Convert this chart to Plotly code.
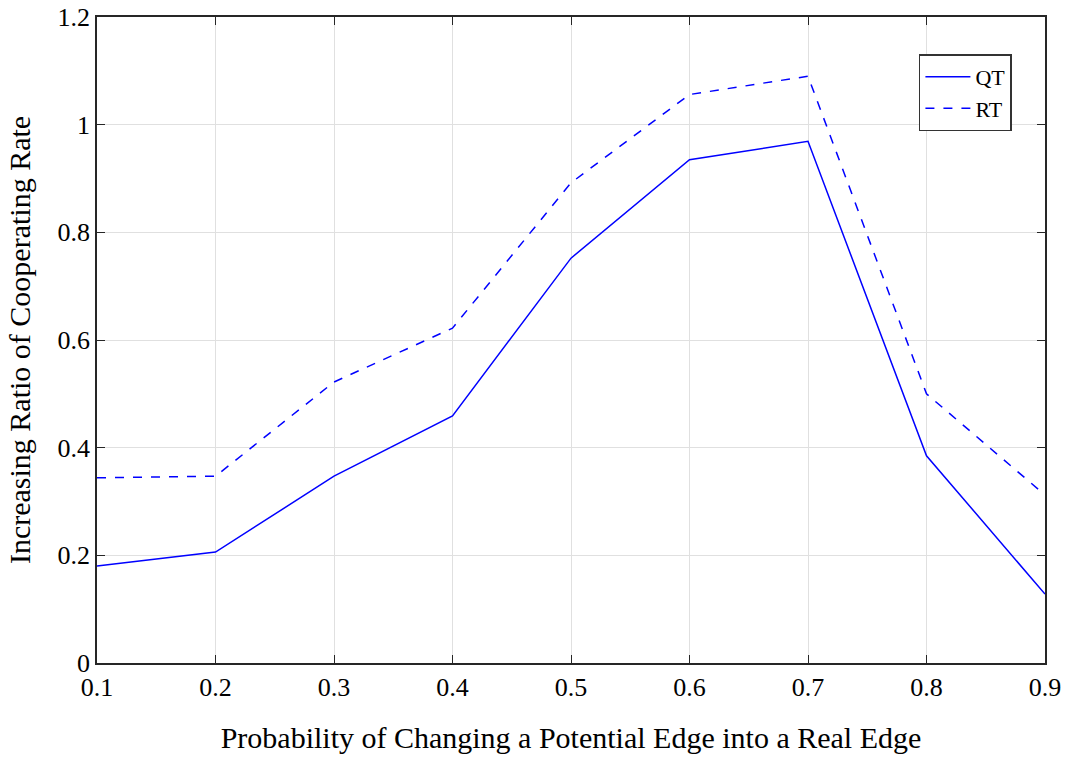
import plotly.graph_objects as go

x_vals = [0.1, 0.2, 0.3, 0.4, 0.5, 0.6, 0.7, 0.8, 0.9]
qt_vals = [0.180, 0.206, 0.347, 0.459, 0.752, 0.935, 0.969, 0.385, 0.128]
rt_vals = [0.344, 0.347, 0.522, 0.622, 0.892, 1.056, 1.090, 0.500, 0.312]
x_ticks = [0.1, 0.2, 0.3, 0.4, 0.5, 0.6, 0.7, 0.8, 0.9]
y_ticks = [0, 0.2, 0.4, 0.6, 0.8, 1.0, 1.2]
y_tick_text = ["0", "0.2", "0.4", "0.6", "0.8", "1", "1.2"]

font_family = "Liberation Serif, Times New Roman, serif"

fig = go.Figure()
fig.add_trace(go.Scatter(x=x_vals, y=qt_vals, mode="lines", name="QT",
                         line=dict(color="#0000ff", width=1.5, dash="solid")))
fig.add_trace(go.Scatter(x=x_vals, y=rt_vals, mode="lines", name="RT",
                         line=dict(color="#0000ff", width=1.5, dash="dash")))

fig.update_layout(
    width=1065, height=757,
    paper_bgcolor="white", plot_bgcolor="white",
    margin=dict(l=97, r=20, t=17, b=94, autoexpand=False),
    font=dict(family=font_family, size=26, color="black"),
    showlegend=True,
    legend=dict(x=0.867, y=0.942, xanchor="left", yanchor="top",
                bgcolor="white", bordercolor="#333333", borderwidth=1.5,
                font=dict(family=font_family, size=22),
                tracegroupgap=0, itemwidth=45),
    xaxis=dict(range=[0.1, 0.9], tickvals=x_ticks,
               ticktext=[str(v) for v in x_ticks],
               showgrid=True, gridcolor="#e0e0e0", gridwidth=1,
               showline=True, linecolor="#262626", linewidth=1.5, mirror="ticks",
               ticks="inside", ticklen=8, tickcolor="#262626",
               zeroline=False, automargin=False,
               title=dict(text="Probability of Changing a Potential Edge into a Real Edge",
                          font=dict(size=30), standoff=26),
               tickfont=dict(size=26)),
    yaxis=dict(range=[0, 1.2], tickvals=y_ticks, ticktext=y_tick_text,
               showgrid=True, gridcolor="#e0e0e0", gridwidth=1,
               showline=True, linecolor="#262626", linewidth=1.5, mirror="ticks",
               ticks="inside", ticklen=8, tickcolor="#262626",
               zeroline=False, automargin=False,
               title=dict(text="Increasing Ratio of Cooperating Rate",
                          font=dict(size=30), standoff=18),
               tickfont=dict(size=26)),
)

fig.write_html("out.html", config={"displayModeBar": False},
               post_script="document.body.style.margin='0';")
